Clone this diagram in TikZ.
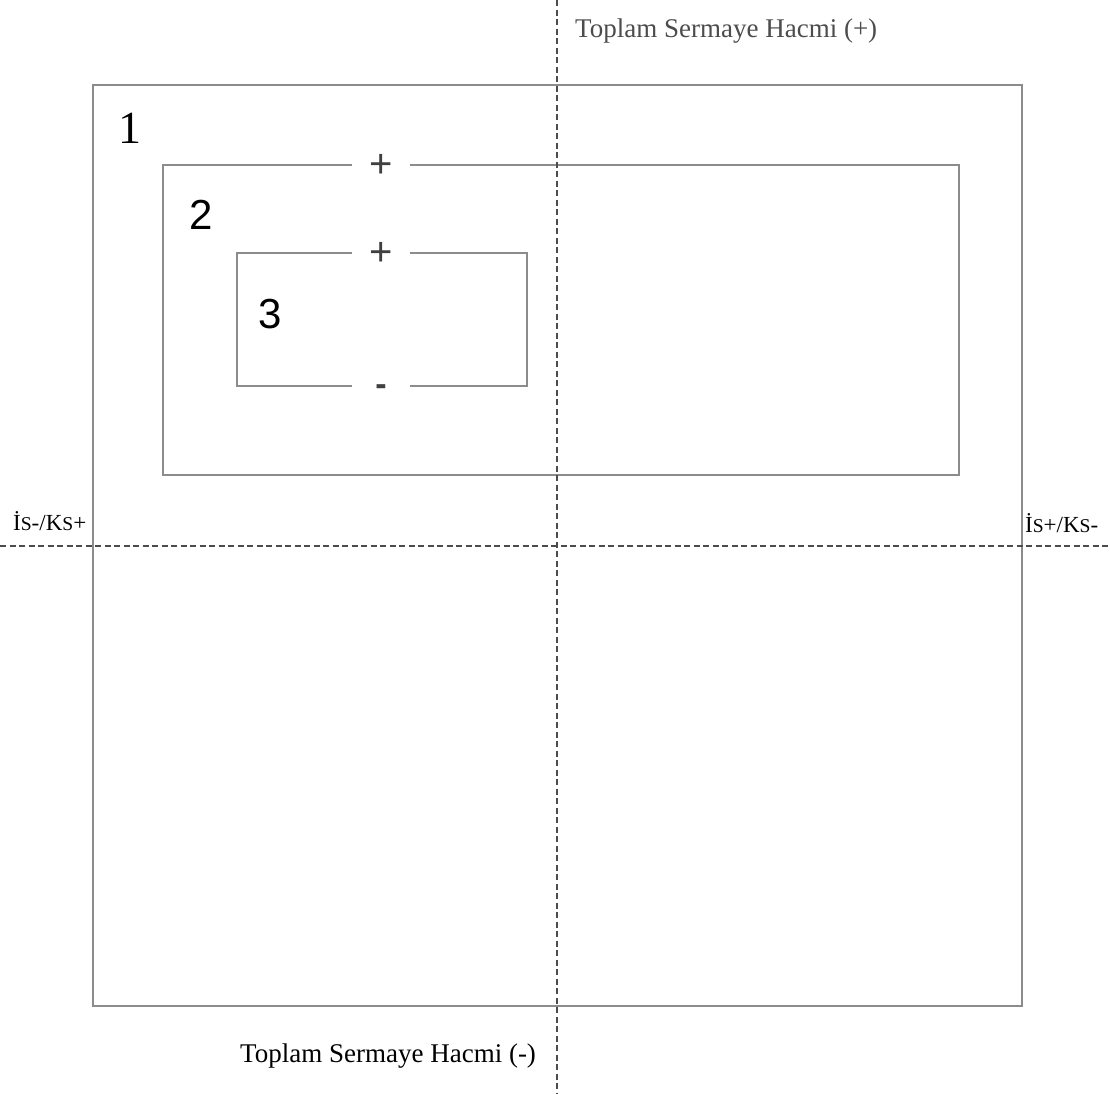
\documentclass[tikz,border=0pt]{standalone}
\usepackage{fontspec}
\setmainfont{Liberation Serif}
\newfontfamily\numfont{Liberation Sans}
\begin{document}
\begin{tikzpicture}[x=1pt,y=-1pt,
  box/.style={draw=black!45,line width=1.3pt},
  axis/.style={draw=black!70,line width=2pt,dash pattern=on 6pt off 3.5pt},
  sign/.style={fill=white,font=\numfont\fontsize{40}{40}\selectfont,text=black!75,minimum width=58pt,inner sep=0pt,minimum height=10pt},
  num/.style={font=\fontsize{46}{46}\selectfont},
  lbl/.style={font=\fontsize{27}{27}\selectfont}]
\useasboundingbox (0,0) rectangle (1110,1093);
% boxes
\draw[box] (93,85) rectangle (1022,1006);
\draw[box] (163,165) rectangle (959,475);
\draw[box] (237,253) rectangle (527,386);
% axes
\coordinate (vt) at (557,0);
\coordinate (vb) at (557,1093);
\coordinate (hl) at (0,546);
\coordinate (hr) at (1108,546);
\draw[axis] (vt) -- (vb);
\draw[axis] (hl) -- (hr);
% signs
\node[sign] (p2) at (381,166) {+};
\node[sign] (p3) at (381,254) {+};
\node[sign,font=\numfont\bfseries\fontsize{34}{34}\selectfont] (m3) at (381,390) {-};
% numbers
\node[num] (n1) at (130,128) {1};
\node[num,font=\numfont\fontsize{42}{42}\selectfont] (n2) at (201,215) {2};
\node[num,font=\numfont\fontsize{42}{42}\selectfont] (n3) at (270,314) {3};
% labels
\node[lbl,text=black!70,anchor=west,inner sep=0pt] (top) at (575,31) {Toplam Sermaye Hacmi (+)};
\node[lbl,anchor=west,inner sep=0pt] (bot) at (240,1056) {Toplam Sermaye Hacmi (-)};
\node[font=\fontsize{23}{23}\selectfont,anchor=west,inner sep=0pt] (ll) at (13,521) {İ\scalebox{0.85}{S}-/K\scalebox{0.85}{S}+};
\node[font=\fontsize{23}{23}\selectfont,anchor=west,inner sep=0pt] (rl) at (1025,523) {İ\scalebox{0.85}{S}+/K\scalebox{0.85}{S}-};
\end{tikzpicture}
\end{document}
